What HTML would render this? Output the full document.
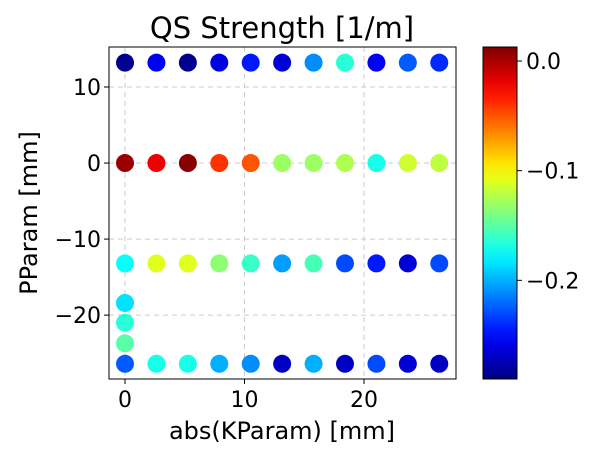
<!DOCTYPE html>
<html><head><meta charset="utf-8"><style>
body{margin:0;background:#fff}
</style></head><body>
<svg id="c" width="611" height="453" xmlns="http://www.w3.org/2000/svg" font-family="DejaVu Sans, Liberation Sans, sans-serif"></svg>
<script>
const xs=[0,2.63,5.26,7.89,10.52,13.15,15.78,18.41,21.04,23.67,26.3];
const rowY=[13.2,0,-13.2,-26.4];
const rowVals=[
[-0.285,-0.255,-0.285,-0.26,-0.245,-0.265,-0.21,-0.165,-0.255,-0.225,-0.24],
[0.005,-0.02,0.01,-0.04,-0.05,-0.13,-0.13,-0.125,-0.17,-0.115,-0.12],
[-0.175,-0.11,-0.11,-0.135,-0.16,-0.205,-0.155,-0.23,-0.245,-0.265,-0.23],
[-0.225,-0.17,-0.17,-0.2,-0.21,-0.27,-0.2,-0.27,-0.23,-0.265,-0.27]];
const extraY=[-18.4,-21.0,-23.7];
const extraVals=[-0.185,-0.165,-0.15];
const xTicks=[0,10,20];
const yTicks=[10,0,-10,-20];
const cTicks=[0,-0.1,-0.2];
const cTickLabels=["0.0","\u22120.1","\u22120.2"];
const vmin=-0.290,vmax=0.0128;
const L=109,R=456,T=47,B=379;
const X=v=>L+(v+1.34)/(27.7+1.34)*(R-L);
const Y=v=>T+(15.26-v)/(15.26+28.4)*(B-T);
const CY=v=>T+(vmax-v)/(vmax-vmin)*(B-T);
function jet(v){let t=(v-vmin)/(vmax-vmin);t=Math.max(0,Math.min(1,t));
 const f=x=>Math.round(255*Math.max(0,Math.min(1,x)));
 return `rgb(${f(1.5-Math.abs(4*t-3))},${f(1.5-Math.abs(4*t-2))},${f(1.5-Math.abs(4*t-1))})`;}
const s=document.getElementById('c');const NS="http://www.w3.org/2000/svg";
function add(tag,a,txt){const e=document.createElementNS(NS,tag);for(const k in a)e.setAttribute(k,a[k]);if(txt!=null)e.textContent=txt;s.appendChild(e);return e;}
let e;
e=add('text',{x:282,y:38,'font-size':29,'text-anchor':'middle'},'QS Strength [1/m]');


xTicks.forEach(v=>{
 e=add('line',{x1:X(v),x2:X(v),y1:T,y2:B,stroke:'#ccc','stroke-dasharray':'5,4'});
 
 
 add('line',{x1:X(v),x2:X(v),y1:B,y2:B+5,stroke:'#000'});
 e=add('text',{x:X(v),y:B+28,'font-size':22,'text-anchor':'middle'},String(v));
 
 
});
yTicks.forEach(v=>{
 e=add('line',{x1:L,x2:R,y1:Y(v),y2:Y(v),stroke:'#ccc','stroke-dasharray':'5,4'});
 
 
 add('line',{x1:L-5,x2:L,y1:Y(v),y2:Y(v),stroke:'#000'});
 e=add('text',{x:L-8,y:Y(v)+8,'font-size':22,'text-anchor':'end'},v<0?'\u2212'+(-v):String(v));
 
 
});
rowY.forEach((y,r)=>xs.forEach((x,i)=>{
 e=add('circle',{cx:X(x),cy:Y(y),r:9,fill:jet(rowVals[r][i])});
 
 
}));
extraY.forEach((y,i)=>{
 e=add('circle',{cx:X(0),cy:Y(y),r:9,fill:jet(extraVals[i])});
 
 
});
e=add('rect',{x:L,y:T,width:R-L,height:B-T,fill:'none',stroke:'#000'});


e=add('text',{x:282,y:439,'font-size':24,'text-anchor':'middle'},'abs(KParam) [mm]');


e=add('text',{x:0,y:0,'font-size':24,'text-anchor':'middle',transform:`translate(37,${(T+B)/2}) rotate(-90)`},'PParam [mm]');


const defs=add('defs',{});const g=document.createElementNS(NS,'linearGradient');
g.setAttribute('id','jg');g.setAttribute('x1','0');g.setAttribute('y1','1');g.setAttribute('x2','0');g.setAttribute('y2','0');
for(let k=0;k<=20;k++){const st=document.createElementNS(NS,'stop');st.setAttribute('offset',k/20);st.setAttribute('stop-color',jet(vmin+(vmax-vmin)*k/20));g.appendChild(st);}
defs.appendChild(g);
e=add('rect',{x:483,y:T,width:34,height:B-T,fill:'url(#jg)',stroke:'#000'});


cTicks.forEach((v,i)=>{
 add('line',{x1:517,x2:522,y1:CY(v),y2:CY(v),stroke:'#000'});
 e=add('text',{x:526,y:CY(v)+8,'font-size':22},cTickLabels[i]);
 
 
});
</script>
</body></html>
